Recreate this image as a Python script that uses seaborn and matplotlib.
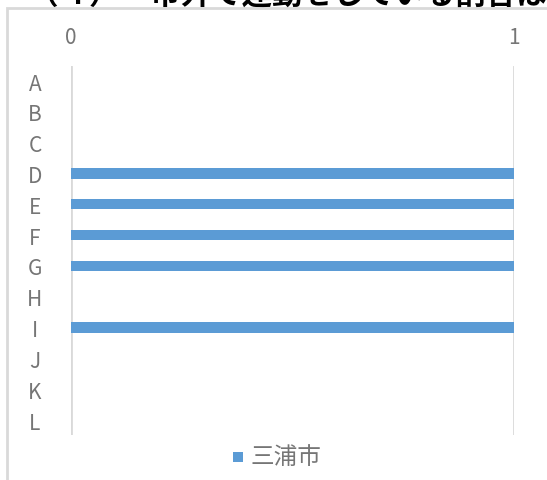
import numpy as np
import pandas as pd
import seaborn as sns
import matplotlib.pyplot as plt
from matplotlib.patches import Rectangle

# data
categories = ["A", "B", "C", "D", "E", "F", "G", "H", "I", "J", "K", "L"]
values = [0, 0, 0, 1, 1, 1, 1, 0, 1, 0, 0, 0]
series_name = "三浦市"
title = "（４）　市外で運動をしている割合は…"

df = pd.DataFrame({"category": categories, "value": values, "series": series_name})

sns.set_theme(style="white")
plt.rcParams['font.family'] = ['Noto Sans CJK JP', 'DejaVu Sans']

fig = plt.figure(figsize=(5.47, 4.81), dpi=100)
ax = fig.add_axes([0.1298, 0.0927, 0.8099, 0.7688])

sns.barplot(data=df, x="value", y="category", hue="series", orient="h",
            palette=["#5B9BD5"], saturation=1, width=0.33, linewidth=0,
            edgecolor="none", ax=ax, legend=False)

ax.set_xlim(0, 1)
ax.set_xticks([0, 1])
ax.set_xticklabels(["0", "1"])
ax.xaxis.tick_top()
ax.set_xlabel("")
ax.set_ylabel("")
ax.tick_params(axis="both", length=0, labelsize=15, colors="#767676")
ax.tick_params(axis="y", pad=26)
ax.tick_params(axis="x", pad=13)
for lab in ax.get_yticklabels():
    lab.set_horizontalalignment("center")
ax.grid(axis="x", color="#D9D9D9", linewidth=2)
ax.set_axisbelow(True)
for s in ax.spines.values():
    s.set_visible(False)

# chart frame (cut off at right and bottom)
fig.patches.append(Rectangle((7 / 547, -0.1), 1.2, 1 - 9 / 481 + 0.1,
                             transform=fig.transFigure, fill=False,
                             edgecolor="#D9D9D9", linewidth=2))

# legend
fig.patches.append(Rectangle((233 / 547, 1 - 463 / 481), 10 / 547, 10 / 481,
                             transform=fig.transFigure, facecolor="#5B9BD5",
                             edgecolor="none"))
fig.text(251 / 547, 1 - 458 / 481, series_name, fontsize=17, color="#767676",
         va="center", ha="left")

# title, mostly above the picture
fig.text(28 / 547, 1 - 4 / 481, title, fontsize=22, fontweight="bold",
         color="black", va="baseline", ha="left")

fig.savefig("out.png", dpi=100)
